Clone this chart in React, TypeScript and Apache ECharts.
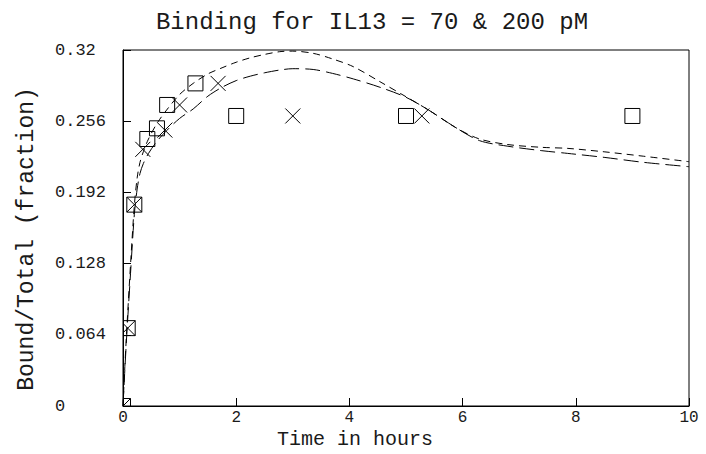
import React, { useEffect, useRef } from "react";
import * as echarts from "echarts";

// Fitted curves
const curveT = [0, 0.035, 0.07, 0.14, 0.2, 0.25, 0.3, 0.36, 0.45, 0.6, 0.77, 1.0, 1.24, 1.5, 1.75, 2.0, 2.25, 2.5, 2.77, 3.0, 3.36, 3.7, 4.07, 4.54, 5.0, 5.4, 5.9, 6.3, 6.8, 7.4, 7.85, 8.5, 9.2, 10];
const curveShort = [0, 0.038, 0.072, 0.133, 0.18, 0.205, 0.219, 0.2286, 0.24, 0.254, 0.266, 0.28, 0.29, 0.2985, 0.304, 0.309, 0.313, 0.316, 0.3185, 0.319, 0.317, 0.312, 0.305, 0.2915, 0.278, 0.266, 0.2496, 0.24, 0.235, 0.2325, 0.2316, 0.2285, 0.2245, 0.2196];
const curveLong = [0, 0.035, 0.067, 0.125, 0.172, 0.195, 0.209, 0.218, 0.227, 0.238, 0.2475, 0.2585, 0.267, 0.2785, 0.2865, 0.2925, 0.2965, 0.2995, 0.302, 0.3032, 0.3025, 0.299, 0.294, 0.2865, 0.2775, 0.266, 0.2496, 0.2385, 0.2335, 0.2295, 0.2271, 0.2235, 0.219, 0.2151];

// Observed data
const squareT = [0, 0.083, 0.2, 0.43, 0.6, 0.78, 1.28, 2.0, 5.0, 9.0];
const squareV = [0, 0.07, 0.181, 0.24, 0.2496, 0.2706, 0.29, 0.2607, 0.2607, 0.2607];
const crossT = [0, 0.083, 0.2, 0.35, 0.74, 1.0, 1.68, 3.0, 5.28];
const crossV = [0, 0.07, 0.181, 0.2307, 0.248, 0.2706, 0.29, 0.2607, 0.2607];

const xTicks = ["0", "2", "4", "6", "8", "10"];
const yTicks = ["0", "0.064", "0.128", "0.192", "0.256", "0.32"];

const FONT = "Liberation Mono";
const TXT = "#1a1a1a";
const SZ = 15;

export default function App() {
  const ref = useRef<HTMLDivElement>(null);
  useEffect(() => {
    const chart = echarts.init(ref.current!, null, { renderer: "svg" });
    const zip = (a: number[], b: number[]) => a.map((t, i) => [t, b[i]]);
    const option: any = {
      animation: false,
      backgroundColor: "#fff",
      grid: { left: 123, right: 17, top: 50, bottom: 48, show: true, borderColor: "#000", borderWidth: 1 },
      graphic: [
        { type: "text", x: 372, y: 22, style: { text: "Binding for IL13 = 70 & 200 pM", font: `24px "${FONT}"`, fill: TXT, textAlign: "center", textVerticalAlign: "middle" } },
        { type: "text", x: 355, y: 439, style: { text: "Time in hours", font: `20px "${FONT}"`, fill: TXT, textAlign: "center", textVerticalAlign: "middle" } },
        { type: "text", x: 27, y: 239, rotation: Math.PI / 2, style: { text: "Bound/Total (fraction)", font: `23px "${FONT}"`, fill: TXT, textAlign: "center", textVerticalAlign: "middle" } },
      ],
      xAxis: {
        type: "value", min: 0, max: 10, interval: 2,
        axisLine: { show: true, lineStyle: { color: "#000", width: 1 } },
        axisTick: { show: true, inside: true, length: 8, lineStyle: { color: "#000" } },
        axisLabel: { margin: 4, color: TXT, fontFamily: FONT, fontSize: 16, lineHeight: 16, formatter: (v: number) => xTicks[Math.round(v / 2)] ?? "" },
        splitLine: { show: false },
      },
      yAxis: {
        type: "value", min: 0, max: 0.32, interval: 0.064,
        axisLine: { show: true, lineStyle: { color: "#000", width: 1 } },
        axisTick: { show: true, inside: true, length: 8, lineStyle: { color: "#000" } },
        axisLabel: { margin: 68, align: "left", color: TXT, fontFamily: FONT, fontSize: 17, formatter: (v: number) => yTicks[Math.round(v / 0.064)] ?? "" },
        splitLine: { show: false },
      },
      series: [
        { type: "line", data: zip(curveT, curveShort), smooth: 0.3, showSymbol: false, clip: true, lineStyle: { color: "#000", width: 1, type: [7, 5] } },
        { type: "line", data: zip(curveT, curveLong), smooth: 0.3, showSymbol: false, clip: true, lineStyle: { color: "#000", width: 1, type: [15, 6] } },
        {
          type: "custom", clip: true, data: zip(squareT, squareV), encode: { x: 0, y: 1 },
          renderItem: (params: any, api: any) => {
            const p = api.coord([api.value(0), api.value(1)]);
            return { type: "rect", shape: { x: p[0] - SZ / 2, y: p[1] - SZ / 2, width: SZ, height: SZ }, style: { fill: "none", stroke: "#000", lineWidth: 1 } };
          },
        },
        {
          type: "custom", clip: true, data: zip(crossT, crossV), encode: { x: 0, y: 1 },
          renderItem: (params: any, api: any) => {
            const p = api.coord([api.value(0), api.value(1)]);
            const h = SZ / 2;
            return {
              type: "group",
              children: [
                { type: "line", shape: { x1: p[0] - h, y1: p[1] - h, x2: p[0] + h, y2: p[1] + h }, style: { stroke: "#000", lineWidth: 1 } },
                { type: "line", shape: { x1: p[0] - h, y1: p[1] + h, x2: p[0] + h, y2: p[1] - h }, style: { stroke: "#000", lineWidth: 1 } },
              ],
            };
          },
        },
      ],
    };
    chart.setOption(option);
    return () => chart.dispose();
  }, []);
  return <div ref={ref} style={{ position: "fixed", left: 0, top: 0, width: 706, height: 454 }} />;
}
